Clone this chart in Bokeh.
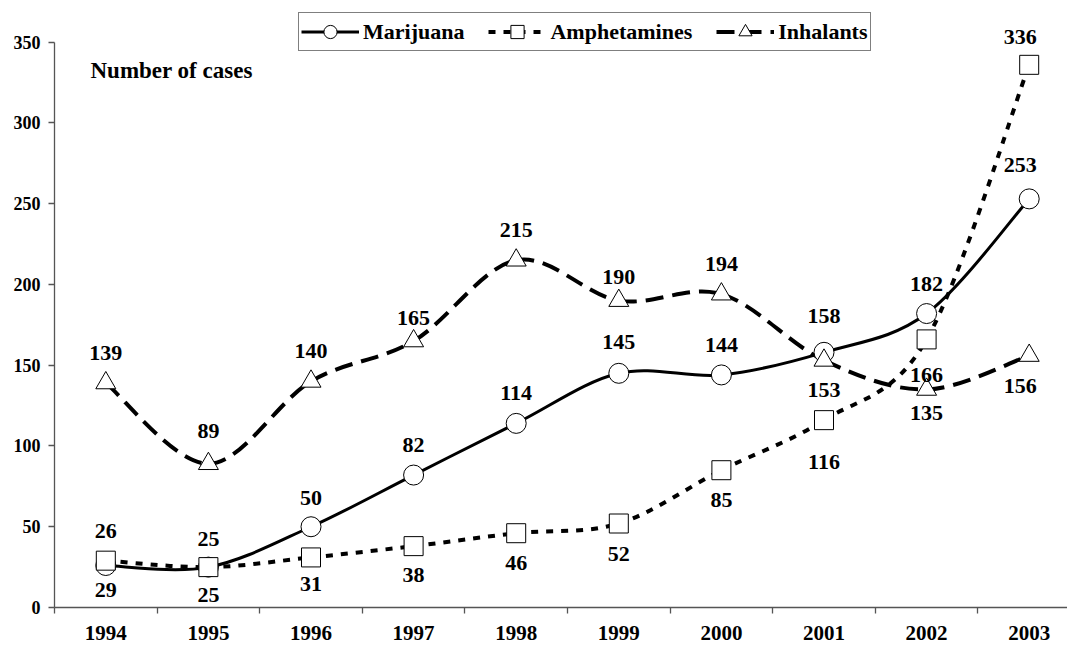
import numpy as np
from bokeh.plotting import figure
from bokeh.models import Range1d, FixedTicker, Legend, LegendItem, Label, ColumnDataSource
from bokeh.embed import file_html
from bokeh.resources import INLINE
from bokeh.core.properties import value

# ---------------- data ----------------
years = ["1994", "1995", "1996", "1997", "1998", "1999", "2000", "2001", "2002", "2003"]
marijuana = [26, 25, 50, 82, 114, 145, 144, 158, 182, 253]
amphetamines = [29, 25, 31, 38, 46, 52, 85, 116, 166, 336]
inhalants = [139, 89, 140, 165, 215, 190, 194, 153, 135, 156]
y_ticks = [0, 50, 100, 150, 200, 250, 300, 350]

# label placement (screen px; positive = above the point)
mar_label_up = [35, 28, 29, 30, 30, 31, 30, 36, 30, 34]
amp_label_up = [-29, -28, -27, -29, -30, -30, -30, -42, -36, 28]
inh_label_up = [30, 33, 30, 23, 30, 24, 30, -30, -24, -30]
label_dx = [0, 0, 0, 0, 0, 0, 0, 0, 0, -9]

FONT = "Liberation Serif"
FRAME_W, FRAME_H = 1013, 597
X_END = -0.5 + FRAME_W / 102.6
Y_END = FRAME_H / 1.6151

p = figure(frame_width=FRAME_W, frame_height=FRAME_H,
           x_range=Range1d(-0.5, X_END), y_range=Range1d(0, Y_END),
           output_backend="svg", toolbar_location=None,
           min_border_left=54, min_border_right=0, min_border_top=10, min_border_bottom=42)
p.outline_line_color = None
p.grid.visible = False
p.background_fill_color = "white"
p.border_fill_color = "white"

# ---------------- axes ----------------
AX_COL = "#555555"
xa = p.xaxis[0]
xa.ticker = FixedTicker(ticks=list(range(len(years))),
                        minor_ticks=[i - 0.5 for i in range(len(years))])
xa.major_label_overrides = {i: y for i, y in enumerate(years)}
xa.bounds = (-0.5, X_END)
xa.major_tick_out = 0
xa.major_tick_in = 0
xa.minor_tick_out = 6
xa.minor_tick_in = 0
xa.major_label_standoff = 12
xa.axis_line_color = AX_COL
xa.axis_line_width = 1.3
xa.minor_tick_line_color = AX_COL
xa.minor_tick_line_width = 1.3
xa.major_label_text_font = FONT
xa.major_label_text_font_style = "bold"
xa.major_label_text_font_size = "21px"
xa.major_label_text_color = "black"

ya = p.yaxis[0]
ya.ticker = FixedTicker(ticks=y_ticks, minor_ticks=[])
ya.bounds = (0, 350)
ya.major_tick_out = 6
ya.major_tick_in = 0
ya.minor_tick_out = 0
ya.minor_tick_in = 0
ya.major_label_standoff = 8
ya.axis_line_color = AX_COL
ya.axis_line_width = 1.3
ya.major_tick_line_color = AX_COL
ya.major_tick_line_width = 1.3
ya.major_label_text_font = FONT
ya.major_label_text_font_style = "bold"
ya.major_label_text_font_size = "18px"
ya.major_label_text_color = "black"


# ---------------- smoothed lines (Bezier, Excel-like) ----------------
def bezier_source(vals):
    xs = np.arange(len(vals), dtype=float)
    ys = np.asarray(vals, dtype=float)
    n = len(xs)
    xp = np.concatenate([[xs[0]], xs, [xs[-1]]])
    yp = np.concatenate([[ys[0]], ys, [ys[-1]]])
    return ColumnDataSource(dict(
        x0=xs[:-1], y0=ys[:-1], x1=xs[1:], y1=ys[1:],
        cx0=xs[:-1] + (xp[2:n + 1] - xp[0:n - 1]) / 6,
        cy0=ys[:-1] + (yp[2:n + 1] - yp[0:n - 1]) / 6,
        cx1=xs[1:] - (xp[3:n + 2] - xp[1:n]) / 6,
        cy1=ys[1:] - (yp[3:n + 2] - yp[1:n]) / 6,
    ))


styles = [
    ("Marijuana", marijuana, "solid", 3, "circle", 20, mar_label_up),
    ("Amphetamines", amphetamines, "7 8", 4, "square", 19, amp_label_up),
    ("Inhalants", inhalants, "18 9", 4, "triangle", 20, inh_label_up),
]

for name, vals, dash, lw, marker, size, up in styles:
    p.bezier(x0="x0", y0="y0", x1="x1", y1="y1", cx0="cx0", cy0="cy0", cx1="cx1", cy1="cy1",
             source=bezier_source(vals), line_color="black", line_width=lw, line_dash=dash,
             line_cap="butt")

for name, vals, dash, lw, marker, size, up in styles:
    xs = list(range(len(vals)))
    p.scatter(xs, vals, marker=marker, size=size, fill_color="white",
              line_color="black", line_width=1)

for name, vals, dash, lw, marker, size, up in styles:
    src = ColumnDataSource(dict(x=list(range(len(vals))), y=vals,
                                t=[str(v) for v in vals],
                                dy=[-u for u in up], dx=label_dx))
    p.text(x="x", y="y", text="t", x_offset="dx", y_offset="dy", source=src,
           text_align="center", text_baseline="middle",
           text_font=value(FONT), text_font_style="bold", text_font_size="22px",
           text_color="black")

# ---------------- title-like label inside plot ----------------
p.add_layout(Label(x=-0.149, y=332.7, text="Number of cases", text_font=FONT,
                   text_font_style="bold", text_font_size="23px", text_color="black",
                   text_baseline="alphabetic", text_align="left"))

# ---------------- legend ----------------
items = []
for name, vals, dash, lw, marker, size, up in styles:
    lr = p.line([np.nan, np.nan], [np.nan, np.nan], line_color="black", line_width=lw,
                line_dash=dash)
    mr = p.scatter([np.nan], [np.nan], marker=marker, fill_color="white",
                   line_color="black", line_width=1)
    items.append(LegendItem(label=name, renderers=[lr, mr]))

legend = Legend(items=items, orientation="horizontal", location=(244, 556),
                glyph_width=58, glyph_height=33, label_height=33, label_standoff=4,
                spacing=24, padding=2, margin=0,
                border_line_color="black", border_line_width=1,
                background_fill_color="white", background_fill_alpha=1,
                label_text_font=FONT, label_text_font_style="bold",
                label_text_font_size="22px", label_text_color="black")
p.add_layout(legend)

open("out.html", "w").write(file_html(p, INLINE))
